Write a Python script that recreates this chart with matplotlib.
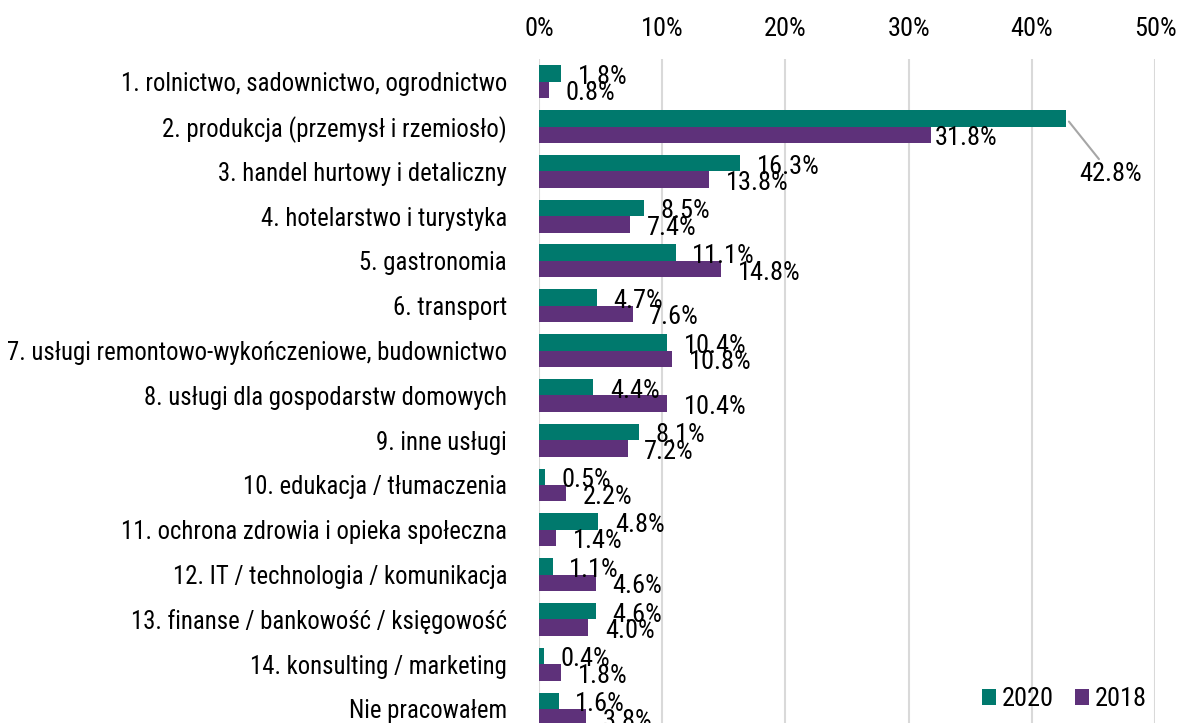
import matplotlib
matplotlib.use("Agg")
import matplotlib.pyplot as plt
import numpy as np
from matplotlib import font_manager

categories = [
    "1. rolnictwo, sadownictwo, ogrodnictwo",
    "2. produkcja (przemysł i rzemiosło)",
    "3. handel hurtowy i detaliczny",
    "4. hotelarstwo i turystyka",
    "5. gastronomia",
    "6. transport",
    "7. usługi remontowo-wykończeniowe, budownictwo",
    "8. usługi dla gospodarstw domowych",
    "9. inne usługi",
    "10. edukacja / tłumaczenia",
    "11. ochrona zdrowia i opieka społeczna",
    "12. IT / technologia / komunikacja",
    "13. finanse / bankowość / księgowość",
    "14. konsulting / marketing",
    "Nie pracowałem",
]
values_2020 = [1.8, 42.8, 16.3, 8.5, 11.1, 4.7, 10.4, 4.4, 8.1, 0.5, 4.8, 1.1, 4.6, 0.4, 1.6]
values_2018 = [0.8, 31.8, 13.8, 7.4, 14.8, 7.6, 10.8, 10.4, 7.2, 2.2, 1.4, 4.6, 4.0, 1.8, 3.8]
series_names = ["2020", "2018"]
xticks = [0, 10, 20, 30, 40, 50]

names = {f.name for f in font_manager.fontManager.ttflist}
narrow = None
for cand in ["Liberation Sans Narrow", "Arial Narrow", "Roboto Condensed"]:
    if cand in names:
        narrow = cand
        break
if narrow:
    plt.rcParams["font.family"] = [narrow, "DejaVu Sans"]
    fs_cat, fs_lab = 17.8, 19
else:
    plt.rcParams["font.family"] = ["Liberation Sans", "DejaVu Sans"]
    fs_cat, fs_lab = 15, 15.5

c2020 = "#00796D"
c2018 = "#5E317A"

W, H = 1178, 723
top_px, bot_px = 59.3, 731.4
fig = plt.figure(figsize=(W / 100, H / 100), dpi=100)
ax = fig.add_axes([539 / W, (H - bot_px) / H, (1155 - 539) / W, (bot_px - top_px) / H])

y = np.arange(len(categories))
bh = 0.367
ax.barh(y - bh / 2, values_2020, height=bh, color=c2020, label=series_names[0], zorder=3)
ax.barh(y + bh / 2, values_2018, height=bh, color=c2018, label=series_names[1], zorder=3)

ax.set_xlim(0, 50)
ax.set_ylim(len(categories) - 0.5, -0.5)
ax.set_yticks(y)
ax.set_yticklabels(categories, fontsize=fs_cat)
ax.set_xticks(xticks)
ax.set_xticklabels([f"{t}%" for t in xticks], fontsize=fs_lab)
ax.xaxis.tick_top()
ax.tick_params(axis="x", length=0, pad=13.5)
ax.tick_params(axis="y", length=0, pad=23)
for s in ax.spines.values():
    s.set_visible(False)
ax.grid(axis="x", color="#D9D9D9", linewidth=1.5, zorder=0)
ax.set_axisbelow(True)

for i, (a, b) in enumerate(zip(values_2020, values_2018)):
    if a == max(values_2020):
        ax.annotate(f"{a:.1f}%", xy=(a, i - bh / 2), xytext=(32, -40),
                    textcoords="offset points", fontsize=fs_lab, va="center", ha="center",
                    arrowprops=dict(arrowstyle="-", color="#A6A6A6", lw=1.5,
                                    shrinkA=0, shrinkB=3), zorder=5)
    else:
        ax.annotate(f"{a:.1f}%", xy=(a, i - bh / 2), xytext=(12, -2.5),
                    textcoords="offset points", fontsize=fs_lab, va="center", ha="left", zorder=5)
    pad_b = 3 if b > 30 else 12
    ax.annotate(f"{b:.1f}%", xy=(b, i + bh / 2), xytext=(pad_b, -2.5),
                textcoords="offset points", fontsize=fs_lab, va="center", ha="left", zorder=5)

fig.legend(loc="center right", bbox_to_anchor=(1157 / W, 1 - 699 / H), ncol=2,
           frameon=False, fontsize=fs_lab, handlelength=0.55, handleheight=0.55,
           handletextpad=0.2, columnspacing=0.8, borderaxespad=0)

fig.savefig("out.png", dpi=100)
